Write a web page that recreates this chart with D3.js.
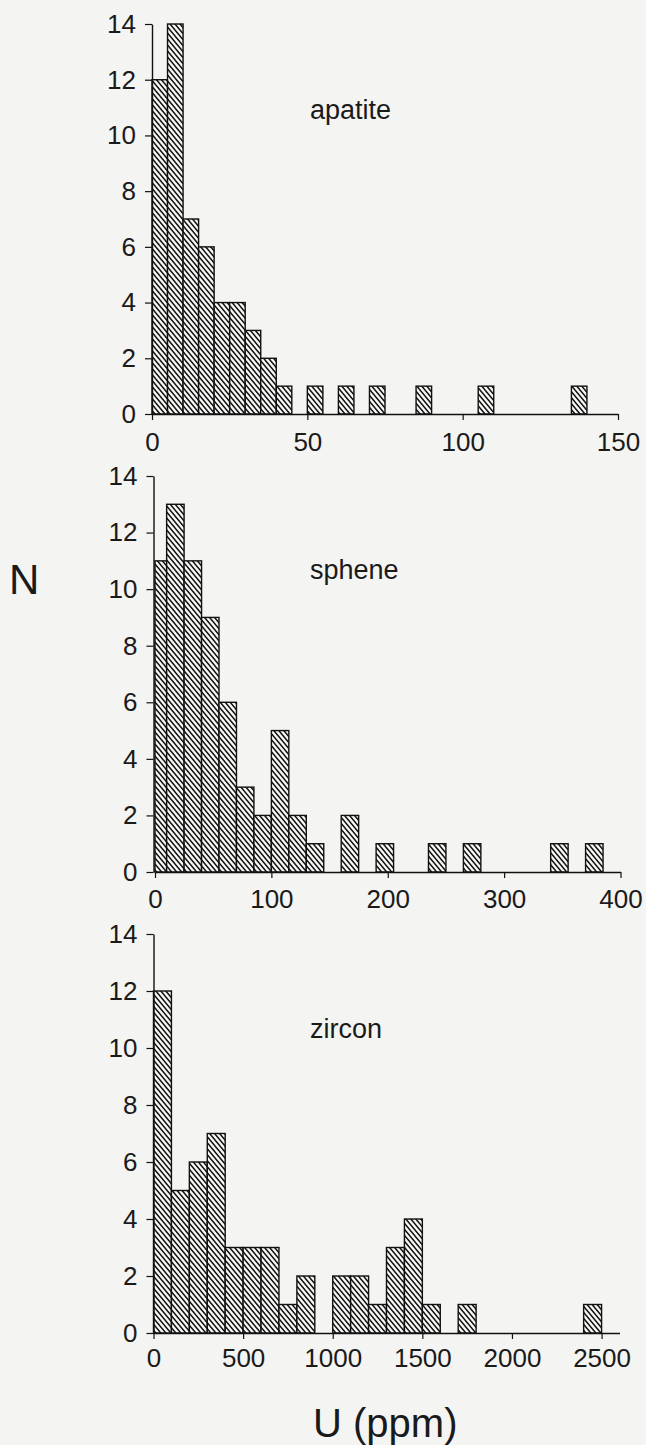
<!DOCTYPE html>
<html>
<head>
<meta charset="utf-8">
<script src="https://cdn.jsdelivr.net/npm/d3@7"></script>
<style>
  html, body { margin: 0; padding: 0; background: #f4f4f2; }
  svg { display: block; }
  text { font-family: "Liberation Sans", Arial, sans-serif; fill: #1a1a1a; }
</style>
</head>
<body>
<svg id="chart" width="646" height="1445"></svg>
<script>
// U concentration histograms (bin edges in ppm, counts N)
const countTicks = [0, 2, 4, 6, 8, 10, 12, 14];

const apatiteLo = [0, 5, 10, 15, 20, 25, 30, 35, 40, 50, 60, 70, 85, 105, 135];
const apatiteHi = [5, 10, 15, 20, 25, 30, 35, 40, 45, 55, 65, 75, 90, 110, 140];
const apatiteN  = [12, 14, 7, 6, 4, 4, 3, 2, 1, 1, 1, 1, 1, 1, 1];
const apatiteTicks = [0, 50, 100, 150];

const spheneLo = [0, 10, 25, 40, 55, 70, 85, 100, 115, 130, 160, 190, 235, 265, 340, 370];
const spheneHi = [10, 25, 40, 55, 70, 85, 100, 115, 130, 145, 175, 205, 250, 280, 355, 385];
const spheneN  = [11, 13, 11, 9, 6, 3, 2, 5, 2, 1, 2, 1, 1, 1, 1, 1];
const spheneTicks = [0, 100, 200, 300, 400];

const zirconLo = [0, 100, 200, 300, 400, 500, 600, 700, 800, 1000, 1100, 1200, 1300, 1400, 1500, 1700, 2400];
const zirconHi = [100, 200, 300, 400, 500, 600, 700, 800, 900, 1100, 1200, 1300, 1400, 1500, 1600, 1800, 2500];
const zirconN  = [12, 5, 6, 7, 3, 3, 3, 1, 2, 2, 2, 1, 3, 4, 1, 1, 1];
const zirconTicks = [0, 500, 1000, 1500, 2000, 2500];

const mineralNames = ["apatite", "sphene", "zircon"];

const svg = d3.select("#chart");

// diagonal hatching used for every bar
const defs = svg.append("defs");
const pat = defs.append("pattern")
  .attr("id", "hatch")
  .attr("patternUnits", "userSpaceOnUse")
  .attr("width", 5)
  .attr("height", 6);
pat.append("rect").attr("width", 5).attr("height", 6).attr("fill", "#f8f8f6");
pat.append("path")
  .attr("d", "M-5,-6L10,12M-5,0L5,12M0,-6L10,6")
  .attr("stroke", "#141414")
  .attr("stroke-width", 1.5)
  .attr("fill", "none");

const panels = [
  { name: mineralNames[0], lo: apatiteLo, hi: apatiteHi, n: apatiteN, ticks: apatiteTicks,
    xDomain: [0, 150], xRange: [152, 618], yRange: [414, 24], labelY: 119, pad: 13 },
  { name: mineralNames[1], lo: spheneLo, hi: spheneHi, n: spheneN, ticks: spheneTicks,
    xDomain: [0, 400], xRange: [155, 620.5], yRange: [872, 476], labelY: 579, pad: 12 },
  { name: mineralNames[2], lo: zirconLo, hi: zirconHi, n: zirconN, ticks: zirconTicks,
    xDomain: [0, 2600], xRange: [153.5, 619.5], yRange: [1333, 934], labelY: 1038, pad: 10 }
];

panels.forEach(p => {
  const x = d3.scaleLinear().domain(p.xDomain).range(p.xRange);
  const y = d3.scaleLinear().domain([0, 14]).range(p.yRange);
  const g = svg.append("g");

  const bins = p.n.map((v, i) => ({ lo: p.lo[i], hi: p.hi[i], v }));
  g.selectAll("rect.bar").data(bins).join("rect")
    .attr("class", "bar")
    .attr("x", d => x(d.lo))
    .attr("width", d => x(d.hi) - x(d.lo))
    .attr("y", d => y(d.v))
    .attr("height", d => y(0) - y(d.v))
    .attr("fill", "url(#hatch)")
    .attr("stroke", "#111")
    .attr("stroke-width", 1.4);

  const xAxis = g.append("g")
    .attr("transform", `translate(0,${y(0)})`)
    .call(d3.axisBottom(x).tickValues(p.ticks).tickFormat(d3.format("d"))
      .tickSize(6).tickPadding(p.pad).tickSizeOuter(0));
  const yAxis = g.append("g")
    .attr("transform", `translate(${x(0) - (p.xRange[0] > 154 ? 1.5 : 0)},0)`)
    .call(d3.axisLeft(y).tickValues(countTicks).tickFormat(d3.format("d"))
      .tickSize(7).tickPadding(9).tickSizeOuter(0));

  [xAxis, yAxis].forEach(a => {
    a.select(".domain").attr("stroke", "#111").attr("stroke-width", 1.4);
    a.selectAll(".tick line").attr("stroke", "#111").attr("stroke-width", 1.2);
    a.selectAll(".tick text")
      .attr("fill", "#1a1a1a")
      .style("font-family", "'Liberation Sans', Arial, sans-serif")
      .style("font-size", "26px");
  });

  g.append("text")
    .attr("x", 310)
    .attr("y", p.labelY)
    .style("font-size", "27px")
    .text(p.name);
});

// shared axis titles
svg.append("text")
  .attr("x", 9)
  .attr("y", 594)
  .style("font-size", "42px")
  .text("N");

svg.append("text")
  .attr("x", 313)
  .attr("y", 1437)
  .style("font-size", "40px")
  .text("U (ppm)");
</script>
</body>
</html>
